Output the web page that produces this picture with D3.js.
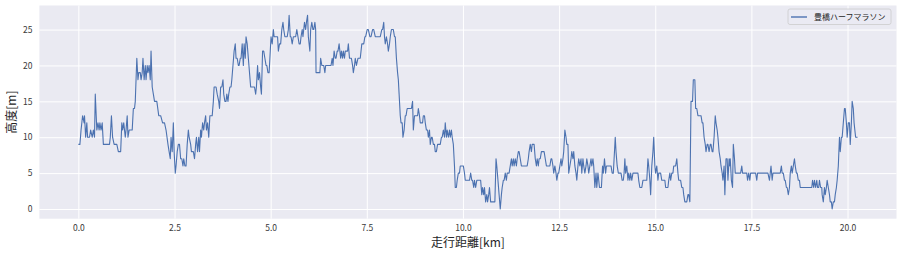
<!DOCTYPE html>
<html>
<head>
<meta charset="utf-8">
<script src="https://cdn.jsdelivr.net/npm/d3@7"></script>
<style>
  body { margin: 0; background: #fff; }
  text { font-family: "Noto Sans CJK JP", "Noto Sans", sans-serif; }
</style>
</head>
<body>
<div id="chart"></div>
<script>
// course profile: distance [km] and elevation [m]
var distKm = [
  0.00,0.04,0.07,0.11,0.15,0.16,0.19,0.22,0.24,0.29,0.32,0.36,0.39,0.42,0.44,0.48,0.51,0.54,0.56,0.59,0.62,0.65,0.74,0.81,0.83,0.86,0.89,0.93,1.00,1.04,1.10,1.13,1.15,1.18,1.22,1.24,1.27,1.29,1.32,1.35,1.40,1.43,1.46,1.48,1.52,1.55,1.57,1.61,1.63,1.66,1.68,1.71,1.74,1.76,1.79,1.81,1.84,1.87,1.89,1.92,1.95,1.98,2.04,2.09,2.14,2.19,2.24,2.28,2.33,2.36,2.39,2.41,2.44,2.47,2.49,2.52,2.54,2.57,2.60,2.63,2.66,2.69,2.72,2.74,2.77,2.80,2.83,2.86,2.88,2.92,2.94,2.97,2.99,3.02,3.05,3.07,3.10,3.13,3.15,3.18,3.20,3.23,3.26,3.28,3.31,3.33,3.36,3.39,3.41,
  3.42,3.45,3.48,3.51,3.53,3.58,3.61,3.65,3.67,3.70,3.73,3.76,3.78,3.81,3.84,3.86,3.89,3.91,3.94,3.97,3.99,4.02,4.05,4.08,4.10,4.13,4.16,4.18,4.21,4.23,4.26,4.29,4.31,4.34,4.36,4.39,4.42,4.45,4.48,4.50,4.55,4.58,4.61,4.63,4.66,4.68,4.71,4.74,4.76,4.79,4.82,4.85,4.88,4.90,4.93,4.96,4.99,5.01,5.04,5.07,5.09,5.12,5.14,5.18,5.20,5.23,5.26,5.29,5.32,5.34,5.37,5.39,5.43,5.46,5.48,5.51,5.53,5.56,5.59,5.62,5.65,5.68,5.71,5.74,5.77,5.79,5.82,5.84,5.88,5.91,5.93,5.96,5.98,6.02,6.04,6.07,6.10,6.12,6.15,6.17,6.18,6.22,6.25,6.28,6.30,6.33,6.36,6.38,6.41,6.43,6.47,6.50,6.54,6.57,6.60,6.62,6.65,6.68,6.70,6.73,6.75,6.78,
  6.82,6.84,6.87,6.89,6.92,6.94,6.97,7.00,7.02,7.05,7.07,7.10,7.13,7.15,7.18,7.20,7.23,7.27,7.30,7.33,7.37,7.40,7.42,7.45,7.47,7.51,7.54,7.58,7.61,7.65,7.68,7.72,7.75,7.79,7.82,7.85,7.89,7.91,7.94,7.96,7.98,8.01,8.04,8.06,8.09,8.11,8.14,8.17,8.19,8.22,8.24,8.27,8.30,8.32,8.34,8.36,8.37,8.39,8.42,8.44,8.47,8.50,8.52,8.55,8.57,8.60,8.63,8.66,8.69,8.71,8.74,8.76,8.79,8.82,8.84,8.87,8.89,8.92,8.95,8.97,9.00,9.02,9.05,9.08,9.10,9.13,9.15,9.18,9.20,9.23,9.26,9.28,9.31,9.34,9.36,9.39,9.41,9.44,9.46,9.49,9.52,9.54,9.57,9.59,9.62,9.65,9.67,9.70,9.72,9.75,9.78,9.80,9.83,9.85,9.88,9.91,9.93,9.96,9.98,10.01,10.04,10.06,10.09,10.12,10.16,
  10.17,10.20,10.23,10.25,10.28,10.30,10.33,10.36,10.39,10.43,10.46,10.49,10.51,10.54,10.56,10.59,10.62,10.64,10.67,10.69,10.72,10.75,10.80,10.83,10.86,10.88,10.91,10.94,10.97,11.00,11.02,11.05,11.07,11.10,11.13,11.15,11.18,11.20,11.23,11.26,11.28,11.31,11.33,11.36,11.39,11.41,11.44,11.46,11.49,11.52,11.56,11.60,11.65,11.67,11.70,11.72,11.75,11.78,11.80,11.83,11.85,11.88,11.91,11.93,11.96,11.98,12.01,12.04,12.06,12.09,12.11,12.14,12.17,12.20,12.23,12.26,12.29,12.31,12.34,12.36,12.39,12.42,12.44,12.47,12.49,12.52,12.55,12.57,12.60,12.62,12.65,12.68,12.70,12.73,12.75,12.78,12.81,12.83,12.86,12.88,12.91,12.94,12.96,12.99,13.01,13.04,13.07,13.09,13.12,13.14,13.17,13.20,13.22,13.25,13.27,13.30,13.33,13.35,13.38,13.40,13.43,13.46,13.48,13.51,13.53,
  13.55,13.58,13.60,13.63,13.65,13.68,13.71,13.73,13.76,13.79,13.83,13.85,13.88,13.91,13.93,13.96,13.98,14.01,14.04,14.06,14.09,14.11,14.14,14.17,14.19,14.21,14.23,14.26,14.29,14.31,14.34,14.36,14.39,14.42,14.44,14.47,14.49,14.52,14.55,14.57,14.60,14.62,14.65,14.68,14.70,14.73,14.75,14.78,14.81,14.83,14.86,14.88,14.91,14.94,14.96,14.99,15.01,15.04,15.07,15.09,15.12,15.14,15.17,15.20,15.22,15.25,15.27,15.30,15.33,15.35,15.38,15.40,15.43,15.46,15.48,15.51,15.53,15.56,15.59,15.61,15.64,15.66,15.69,15.72,15.74,15.77,15.79,15.82,15.85,15.87,15.90,15.93,15.97,15.99,16.03,16.05,16.08,16.11,16.15,16.19,16.22,16.24,16.27,16.30,16.32,16.35,16.37,16.40,16.43,16.45,16.48,16.50,16.53,16.56,16.58,16.61,16.63,16.66,16.69,16.71,16.74,16.76,16.79,16.81,16.84,16.87,16.89,16.92,
  16.93,16.95,16.98,17.01,17.03,17.06,17.08,17.12,17.15,17.19,17.22,17.25,17.27,17.30,17.33,17.35,17.38,17.40,17.43,17.46,17.48,17.51,17.53,17.56,17.59,17.61,17.64,17.66,17.69,17.72,17.76,17.79,17.83,17.86,17.90,17.93,17.97,17.99,18.01,18.04,18.06,18.09,18.11,18.14,18.17,18.19,18.23,18.25,18.28,18.30,18.33,18.36,18.38,18.41,18.43,18.46,18.49,18.51,18.54,18.56,18.59,18.62,18.64,18.67,18.69,18.72,18.75,18.77,18.80,18.83,18.87,18.90,18.94,18.97,19.01,19.04,19.07,19.09,19.12,19.14,19.17,19.20,19.22,19.25,19.27,19.30,19.33,19.34,19.37,19.40,19.42,19.45,19.47,19.50,19.53,19.55,19.58,19.60,19.63,19.66,19.68,19.71,19.73,19.76,19.79,19.81,19.84,19.86,19.89,19.92,19.94,19.97,19.99,20.02,20.05,20.07,20.10,20.12,20.15,20.17,20.21,20.24,20.26
];
var elevM = [
  9,9,11,13,12,13,10,12,10,10,11,10,11,10,16,11,12,11,12,11,12,9,9,9,10,13,10,9,9,8,8,12,11,12,10,11,13,10,11,11,11,14,14,15,21,18,19,19,18,19,21,18,20,18,20,19,20,18,22,17,16,15,15,13,13,12,12,11,9,8,7,10,8,12,8,5,6,8,9,9,7,7,6,7,6,6,9,11,10,9,8,8,8,7,9,10,8,10,8,11,10,12,11,12,13,11,12,10,12,
  13,13,13,15,17,17,16,15,14,17,17,18,16,15,15,16,15,16,17,17,18,20,22,23,21,21,20,20,21,21,23,20,23,21,24,23,21,19,17,17,17,17,16,17,20,18,19,17,16,22,22,21,20,20,19,19,22,24,23,25,24,24,24,24,22,23,23,25,26,25,24,24,24,25,27,24,24,23,24,24,24,25,24,23,23,24,25,24,26,25,26,27,24,22,25,26,25,25,26,25,19,19,19,19,21,20,20,20,19,20,20,20,20,20,21,20,22,21,21,22,22,23,
  21,22,21,22,21,22,22,22,23,21,21,21,20,19,20,21,20,21,21,21,23,23,23,24,24,25,25,24,24,25,25,24,24,24,24,24,25,25,26,24,23,24,23,22,23,24,25,25,25,24,24,21,19,18,16,14,13,12,12,10,11,13,13,14,14,14,14,14,15,11,13,13,13,13,14,13,12,12,12,13,13,12,11,11,10,11,9,10,10,9,9,8,8,9,9,9,9,10,10,11,10,12,10,11,10,11,10,11,10,9,6,3,3,4,5,5,6,6,6,6,5,4,4,4,4,
  4,5,4,4,3,4,3,4,4,4,4,2,3,2,3,1,2,1,2,3,1,1,1,1,7,6,4,2,0,2,3,4,4,5,4,5,5,5,6,7,6,7,6,7,6,7,8,8,7,6,6,6,6,6,7,8,9,8,9,9,9,7,6,7,6,7,7,8,8,8,8,7,6,6,6,6,7,7,6,5,6,5,4,5,5,6,7,6,7,8,11,10,9,9,5,6,7,8,7,8,6,5,4,6,7,6,7,5,7,6,5,6,7,6,5,6,7,6,7,6,3,5,3,5,4,
  3,3,3,6,5,7,5,6,6,6,6,6,5,5,7,10,8,6,5,5,5,5,4,4,5,7,5,6,4,5,4,5,4,5,5,5,5,5,5,4,3,3,3,4,4,4,4,4,7,6,4,2,6,8,10,6,5,6,4,5,5,5,4,4,4,4,3,3,3,4,5,4,5,5,6,6,6,7,5,4,4,4,3,3,2,1,1,1,2,2,1,15,15,18,18,14,14,13,13,13,12,12,10,9,8,9,9,8,9,9,8,8,10,13,12,11,10,8,7,6,5,4,6,2,7,7,4,7,
  6,7,4,3,9,7,5,5,5,5,5,6,5,5,5,5,5,4,5,4,5,5,5,5,5,5,4,5,5,5,5,5,5,5,5,5,4,5,6,4,5,5,5,5,5,5,5,5,6,5,5,4,4,3,3,2,3,5,6,5,6,7,6,5,5,4,4,3,3,3,3,3,3,3,3,3,3,4,3,4,3,4,3,3,4,3,3,2,1,3,2,3,4,3,2,1,1,0,1,1,2,3,4,6,10,8,10,10,12,14,14,12,10,12,12,9,12,15,14,12,10,10,10,9
];
var xTicks = [0, 2.5, 5, 7.5, 10, 12.5, 15, 17.5, 20];
var yTicks = [0, 5, 10, 15, 20, 25];
var seriesName = "豊橋ハーフマラソン";
var xLabel = "走行距離[km]";
var yLabel = "高度[m]";

var W = 904, H = 254;
var margin = {left: 39.4, right: 7.5, top: 5.5, bottom: 35.3};
var pw = W - margin.left - margin.right,
    ph = H - margin.top - margin.bottom;

var points = distKm.map(function(d, i){ return {x: d, y: elevM[i]}; });

// matplotlib-like 5% padding on both axes
var xExt = d3.extent(distKm), yExt = d3.extent(elevM);
var xPad = (xExt[1] - xExt[0]) * 0.05, yPad = (yExt[1] - yExt[0]) * 0.05;
var x = d3.scaleLinear().domain([xExt[0] - xPad, xExt[1] + xPad]).range([0, pw]);
var y = d3.scaleLinear().domain([yExt[0] - yPad, yExt[1] + yPad]).range([ph, 0]);

var svg = d3.select("#chart").append("svg").attr("width", W).attr("height", H);
var g = svg.append("g").attr("transform", "translate(" + margin.left + "," + margin.top + ")");

g.append("rect").attr("width", pw).attr("height", ph).attr("fill", "#EAEAF2");

// grid
var xAxis = d3.axisBottom(x).tickValues(xTicks).tickSize(-ph).tickPadding(6)
  .tickFormat(d3.format(".1f"));
var yAxis = d3.axisLeft(y).tickValues(yTicks).tickSize(-pw).tickPadding(7)
  .tickFormat(d3.format("d"));

var gx = g.append("g").attr("transform", "translate(0," + ph + ")").call(xAxis);
var gy = g.append("g").call(yAxis);
[gx, gy].forEach(function(a){
  a.select(".domain").remove();
  a.selectAll(".tick line").attr("stroke", "#fff").attr("stroke-width", 1);
  a.selectAll(".tick text").attr("fill", "#3a3a3a").style("font-size", "8.5px")
    .style("font-family", "'Noto Sans CJK JP', sans-serif");
});

// line
var line = d3.line().x(function(d){ return x(d.x); }).y(function(d){ return y(d.y); });
g.append("path").datum(points)
  .attr("fill", "none")
  .attr("stroke", "#4C72B0")
  .attr("stroke-width", 1.1)
  .attr("stroke-linejoin", "round")
  .attr("d", line);

// axis labels
svg.append("text")
  .attr("x", margin.left + pw / 2).attr("y", 247)
  .attr("text-anchor", "middle").attr("fill", "#262626")
  .style("font-size", "12px").text(xLabel);
svg.append("text")
  .attr("transform", "translate(16," + (margin.top + ph / 2) + ") rotate(-90)")
  .attr("text-anchor", "middle").attr("fill", "#262626")
  .style("font-size", "12px").text(yLabel);

// legend
var lg = svg.append("g").attr("transform", "translate(788,9)");
lg.append("rect").attr("width", 103).attr("height", 15.5).attr("rx", 2)
  .attr("fill", "#EAEAF2").attr("fill-opacity", 0.8).attr("stroke", "#cccccc").attr("stroke-width", 0.8);
lg.append("line").attr("x1", 3).attr("x2", 19).attr("y1", 8).attr("y2", 8)
  .attr("stroke", "#4C72B0").attr("stroke-width", 1.4);
lg.append("text").attr("x", 26).attr("y", 11.3).attr("fill", "#262626")
  .style("font-size", "8px").text(seriesName);
</script>
</body>
</html>
